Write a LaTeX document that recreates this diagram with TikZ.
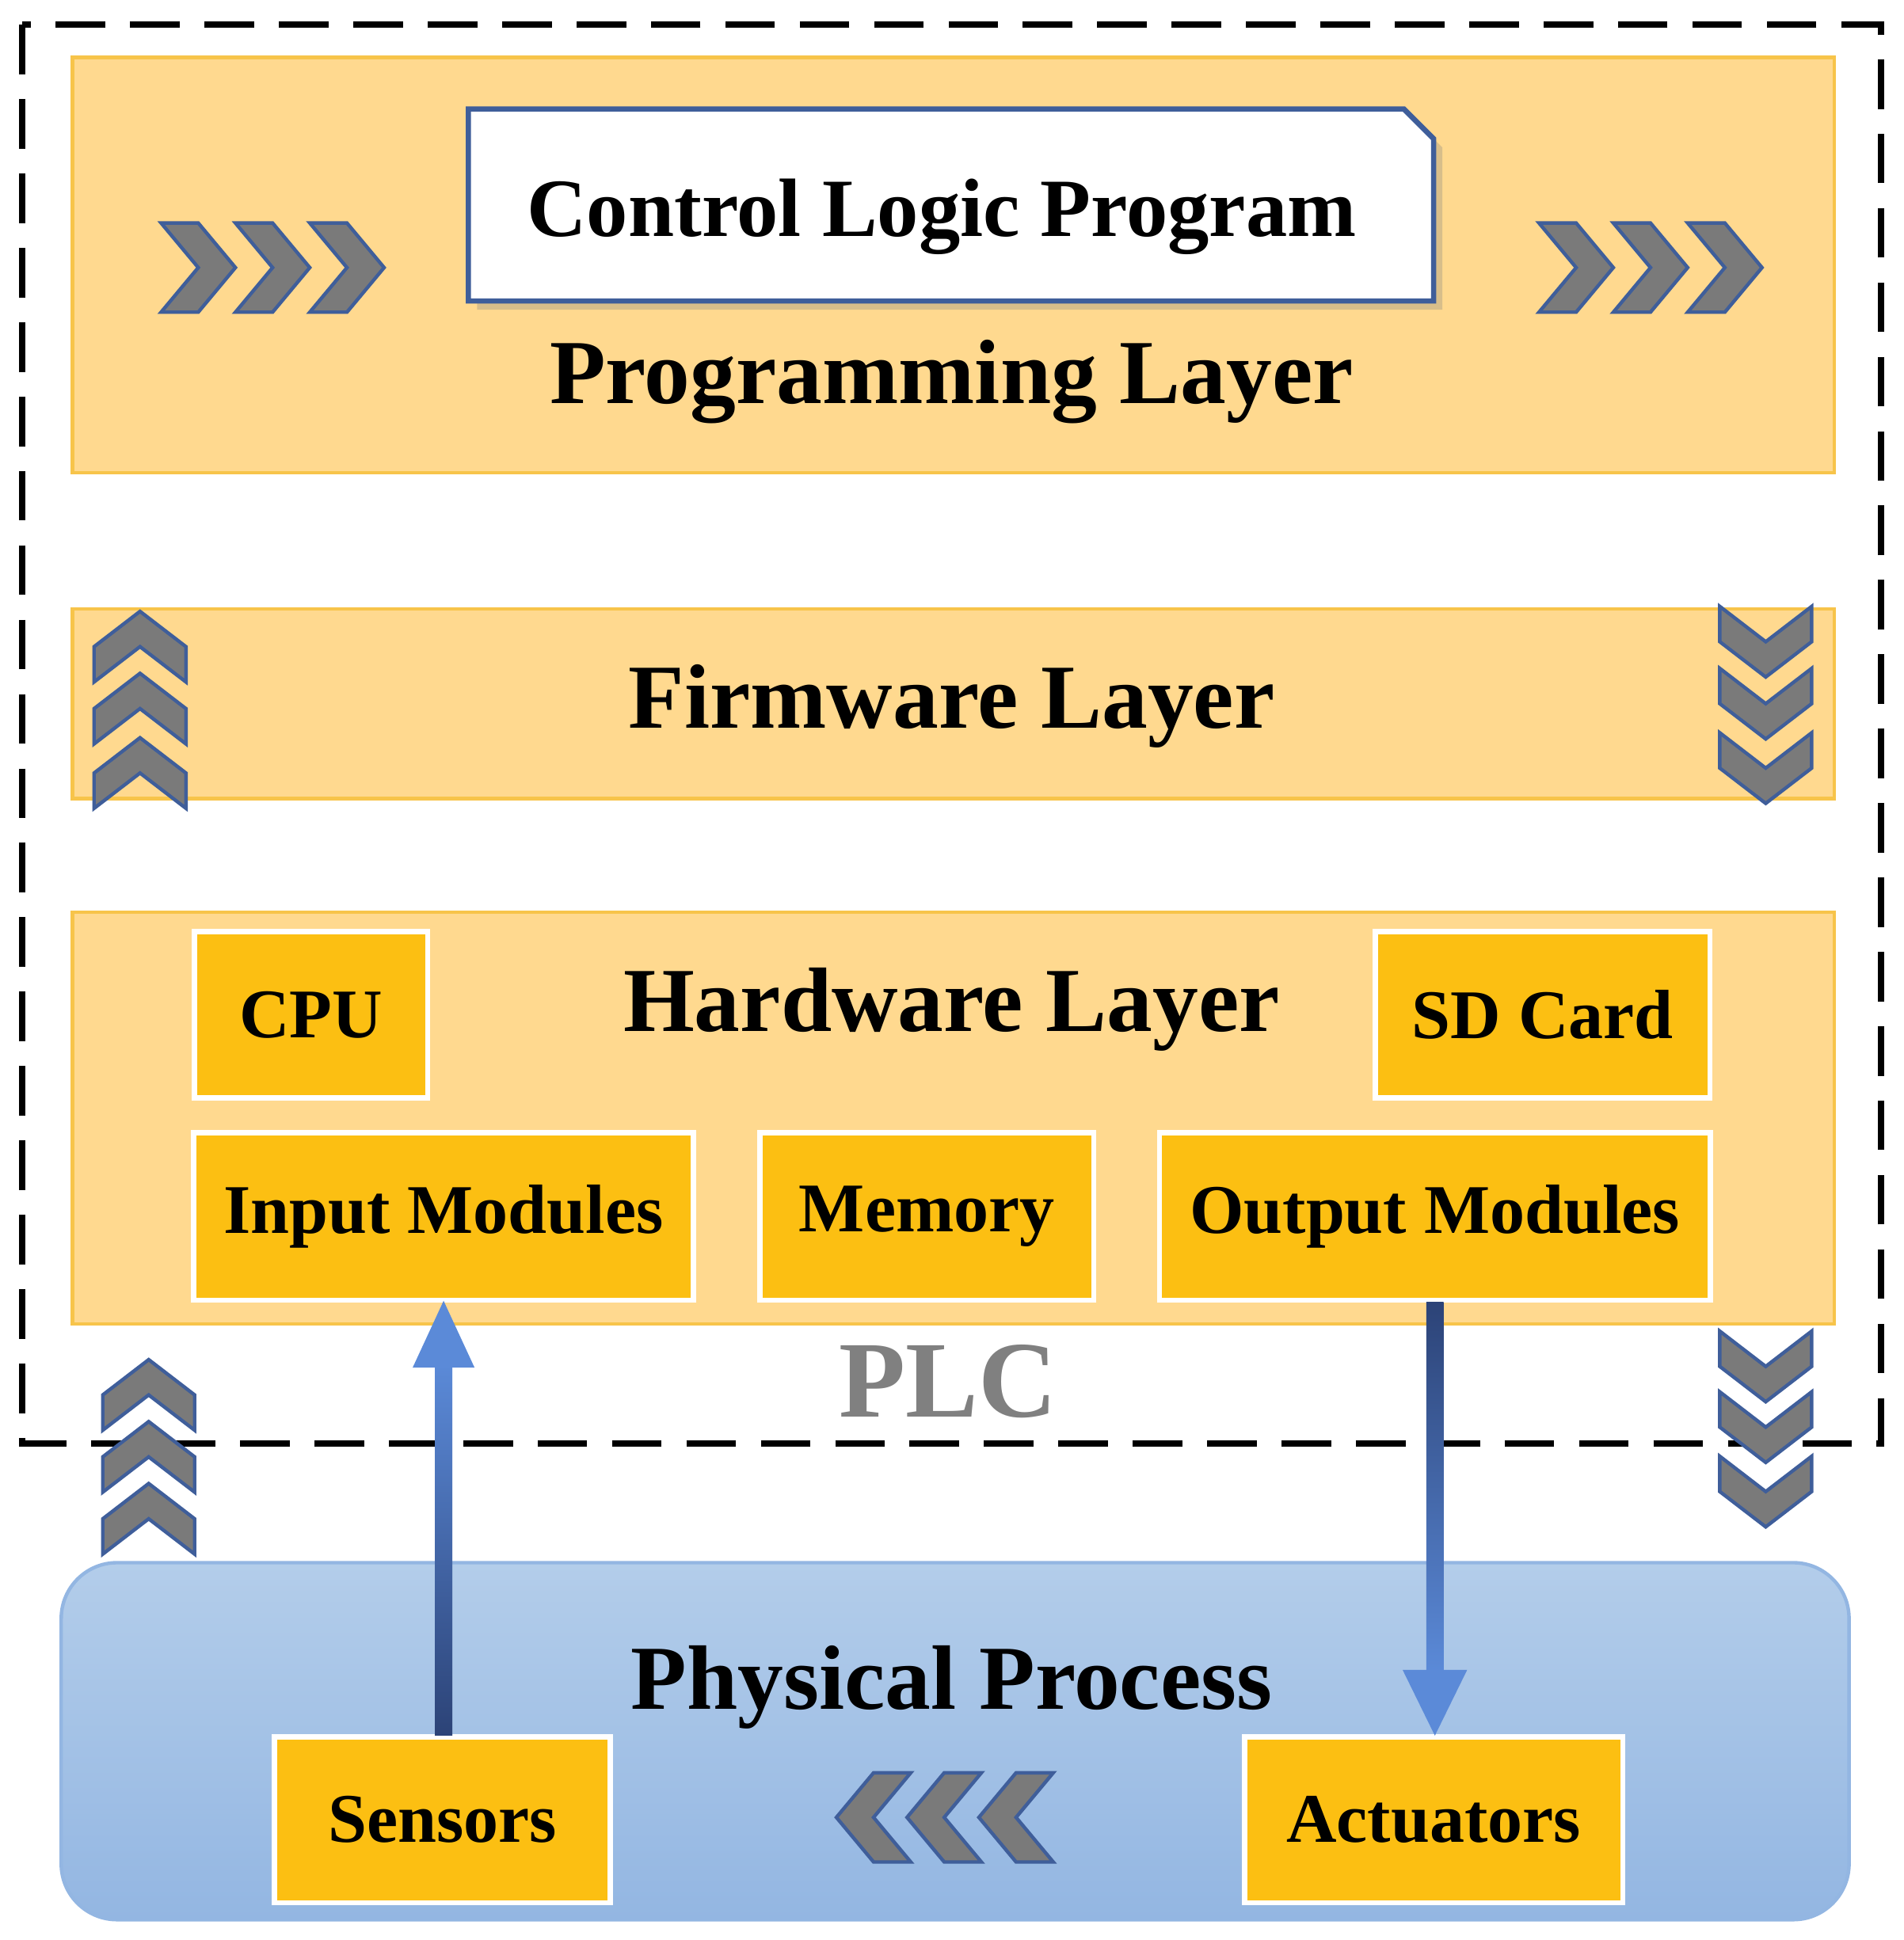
\documentclass[tikz,border=0pt]{standalone}
\usepackage{fontspec}
\setmainfont{Liberation Serif}
\usetikzlibrary{shadows,arrows.meta}
\definecolor{layer}{HTML}{FFD98F}
\definecolor{layerb}{HTML}{F7C44A}
\definecolor{mod}{HTML}{FCBF12}
\definecolor{chevf}{HTML}{7A7A7A}
\definecolor{chevb}{HTML}{3F5E9A}
\definecolor{phys1}{HTML}{B3CDEA}
\definecolor{phys2}{HTML}{93B6E2}
\definecolor{arrL}{HTML}{5B8AD8}
\definecolor{arrD}{HTML}{2C4377}
\tikzset{
 layer/.style={fill=layer,draw=layerb,line width=0.8pt},
 mod/.style={fill=mod,draw=white,line width=1.2pt,inner sep=0,font=\bfseries\fontsize{16}{18}\selectfont},
 big/.style={font=\bfseries\fontsize{21}{24}\selectfont},
 chev/.pic={\filldraw[fill=chevf,draw=chevb,line width=0.8pt,line join=miter]
   (-30,-36)--(0,-36)--(30,0)--(0,36)--(-30,36)--(0,0)--cycle;}
}
\begin{document}
\begin{tikzpicture}[x=0.01cm,y=-0.01cm]
\useasboundingbox (0,0) rectangle (1536,1566);
% layers
\node[layer,minimum width=14.21cm,minimum height=3.35cm,anchor=north west,inner sep=0] (prog) at (57,45) {};
\node[layer,minimum width=14.21cm,minimum height=1.53cm,anchor=north west,inner sep=0] (firm) at (57,490) {};
\node[layer,minimum width=14.21cm,minimum height=3.32cm,anchor=north west,inner sep=0] (hw) at (57,735) {};
\filldraw[fill=white,draw=chevb,line width=1.2pt,drop shadow={shadow xshift=2pt,shadow yshift=-2pt,opacity=0.3}]
 (378,88)--(1133,88)--(1157,112)--(1157,243)--(378,243)--cycle;
\node[font=\bfseries\fontsize{19}{22}\selectfont] (clp) at (760,175) {Control Logic Program};
\node[big] (pl) at (768,308) {Programming Layer};
\node[big] (fl) at (768,570) {Firmware Layer};
\node[big] (hl) at (768,815) {Hardware Layer};
% modules
\node[mod,minimum width=1.88cm,minimum height=1.34cm] (cpu) at (251,819) {CPU};
\node[mod,minimum width=2.70cm,minimum height=1.34cm] (sd) at (1245,819) {SD Card};
\node[mod,minimum width=4.03cm,minimum height=1.35cm] (in) at (358,982) {Input Modules};
\node[mod,minimum width=2.69cm,minimum height=1.35cm] (mem) at (748,982) {Memory};
\node[mod,minimum width=4.44cm,minimum height=1.35cm] (out) at (1158,982) {Output Modules};
\node[font=\bfseries\fontsize{25}{28}\selectfont,text=gray] (plc) at (765,1115) {PLC};
% PLC border
\draw[line width=1.5pt,dash pattern=on 0.4cm off 0.2cm] (18,20) rectangle (1518,1165);
% physical process
\node[draw=phys2,line width=0.8pt,rounded corners=0.45cm,top color=phys1,bottom color=phys2,minimum width=14.42cm,minimum height=2.88cm,anchor=north west,inner sep=0] (phys) at (48,1260) {};
\node[big] (pp) at (768,1362) {Physical Process};
\node[mod,minimum width=2.71cm,minimum height=1.34cm] (sen) at (357,1469) {Sensors};
\node[mod,minimum width=3.05cm,minimum height=1.34cm] (act) at (1157,1469) {Actuators};
% flows
\path (sen.north) -- (in.south);
\shade[bottom color=arrD,top color=arrL] (351,1401) rectangle (365,1100);
\fill[arrL] (333,1104)--(383,1104)--(358,1050)--cycle;
\path (out.south) -- (act.north);
\shade[top color=arrD,bottom color=arrL] (1151,1051) rectangle (1165,1350);
\fill[arrL] (1132,1348)--(1184,1348)--(1158,1401)--cycle;
% chevrons
\foreach \x in {160,220,280} \pic at (\x,216) {chev};
\foreach \x in {1272,1332,1392} \pic at (\x,216) {chev};
\foreach \y in {522,572,624} \pic[rotate=90,xscale=0.95,yscale=1.03] at (113,\y) {chev};
\foreach \y in {518,568,620} \pic[rotate=-90,xscale=0.95,yscale=1.03] at (1425,\y) {chev};
\foreach \y in {1126,1176,1226} \pic[rotate=90,xscale=0.95,yscale=1.03] at (120,\y) {chev};
\foreach \y in {1103,1152,1204} \pic[rotate=-90,xscale=0.95,yscale=1.03] at (1425,\y) {chev};
\foreach \x in {705,762,820} \pic[rotate=180] at (\x,1467) {chev};
\end{tikzpicture}
\end{document}
